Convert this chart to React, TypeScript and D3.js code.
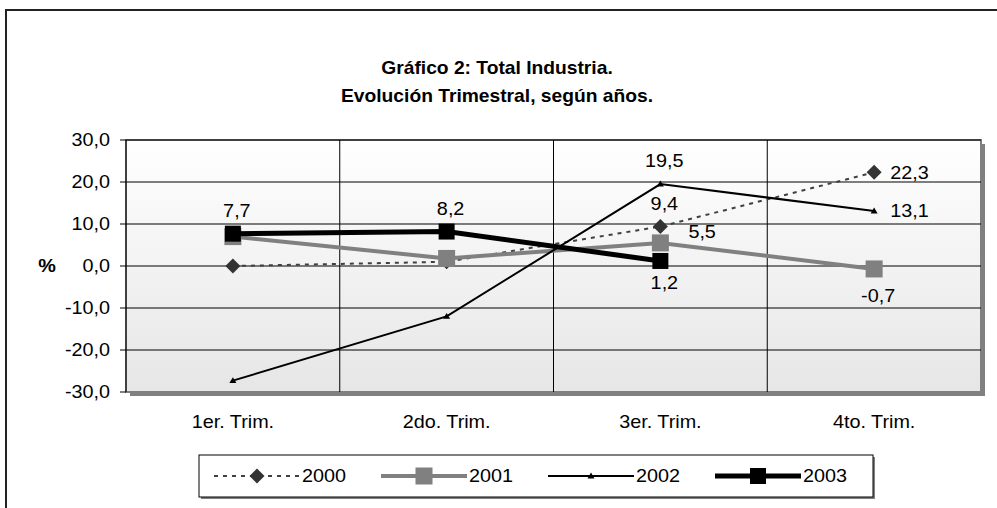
import React from "react";
import * as d3 from "d3";

const categories = ["1er. Trim.", "2do. Trim.", "3er. Trim.", "4to. Trim."];
const yTicks = [-30, -20, -10, 0, 10, 20, 30];
const seriesNames = ["2000", "2001", "2002", "2003"];
const values2000 = [0.0, 1.0, 9.4, 22.3];
const values2001 = [7.0, 1.8, 5.5, -0.7];
const values2002 = [-27.3, -12.0, 19.5, 13.1];
const values2003 = [7.7, 8.2, 1.2];
const labels2000 = [null, null, "9,4", "22,3"];
const labels2001 = [null, null, "5,5", "-0,7"];
const labels2002 = [null, null, "19,5", "13,1"];
const labels2003 = ["7,7", "8,2", "1,2"];

const W = 997;
const H = 508;
const FONT = "'Liberation Sans', Arial, Helvetica, sans-serif";
const SX = 1.1;

type Placement = null | "above" | "below" | "right" | "rightUp" | "below2";

const seriesStyles = [
  { color: "#404040", width: 2, dash: "4,5", marker: "diamond", msize: 15, mcolor: "#333333" },
  { color: "#808080", width: 4, dash: null, marker: "square", msize: 17, mcolor: "#808080" },
  { color: "#000000", width: 2, dash: null, marker: "triangle", msize: 7, mcolor: "#000000" },
  { color: "#000000", width: 5, dash: null, marker: "square", msize: 16, mcolor: "#000000" },
];

const placements: Placement[][] = [
  [null, null, "above", "right"],
  [null, null, "rightUp", "below2"],
  [null, null, "above", "right"],
  ["above", "above", "below"],
];

function T({ x, y, children, anchor = "middle", size = 18, weight = "normal" }: any) {
  return (
    <text
      transform={`translate(${x},${y}) scale(${SX},1)`}
      textAnchor={anchor}
      dominantBaseline="central"
      fontFamily={FONT}
      fontSize={size}
      fontWeight={weight}
      fill="#000"
    >
      {children}
    </text>
  );
}

function Marker({ type, x, y, size, color }: any) {
  if (type === "diamond") {
    const r = size / 2;
    return <path d={`M${x},${y - r}L${x + r},${y}L${x},${y + r}L${x - r},${y}Z`} fill={color} />;
  }
  if (type === "square") {
    return <rect x={x - size / 2} y={y - size / 2} width={size} height={size} fill={color} />;
  }
  const r = size / 2;
  return <path d={`M${x},${y - r}L${x + r},${y + r * 0.7}L${x - r},${y + r * 0.7}Z`} fill={color} />;
}

export default function App() {
  const left = 126, right = 981, top = 140, bottom = 392;
  const x = d3.scaleBand<string>().domain(categories).range([left, right]).paddingInner(0).paddingOuter(0);
  const y = d3.scaleLinear().domain([-30, 30]).range([bottom, top]);
  const cx = (i: number) => (x(categories[i]) as number) + x.bandwidth() / 2;

  const allValues = [values2000, values2001, values2002, values2003];
  const allLabels = [labels2000, labels2001, labels2002, labels2003];

  const line = d3
    .line<number>()
    .x((_, i) => cx(i))
    .y((d) => y(d));

  const labelPos = (p: Placement, px: number, py: number) => {
    switch (p) {
      case "above":
        return { x: px + 4, y: py - 23, anchor: "middle" };
      case "below":
        return { x: px + 4, y: py + 22, anchor: "middle" };
      case "below2":
        return { x: px + 4, y: py + 27, anchor: "middle" };
      case "right":
        return { x: px + 16, y: py, anchor: "start" };
      case "rightUp":
        return { x: px + 28, y: py - 11, anchor: "start" };
      default:
        return null;
    }
  };

  const legendX = 199, legendY = 455, legendW = 674, legendH = 42;
  const itemStart = (i: number) => 214 + i * 167;
  const sampleLen = 86;

  return (
    <svg width={W} height={H} style={{ position: "absolute", left: 0, top: 0, background: "#fff" }}>
      <defs>
        <linearGradient id="plotbg" x1="0" y1="0" x2="0" y2="1">
          <stop offset="0" stopColor="#ffffff" />
          <stop offset="1" stopColor="#e6e6e6" />
        </linearGradient>
      </defs>
      <rect x={0} y={0} width={W} height={H} fill="#fff" />
      {/* outer frame */}
      <rect x={6} y={10} width={1010} height={520} fill="none" stroke="#222" strokeWidth={2} />

      {/* title */}
      <T x={497} y={68} size={17.5} weight="bold">Gráfico 2: Total Industria.</T>
      <T x={497} y={96} size={17.5} weight="bold">Evolución Trimestral, según años.</T>

      {/* plot area shadow and fill */}
      <rect x={left + 4} y={top + 4} width={right - left} height={bottom - top} fill="#808080" />
      <rect x={left} y={top} width={right - left} height={bottom - top} fill="url(#plotbg)" stroke="#808080" strokeWidth={2} />

      {/* horizontal gridlines */}
      {yTicks.filter((t) => t !== -30).map((t) => (
        <line key={t} x1={left} x2={right} y1={y(t)} y2={y(t)} stroke="#000" strokeWidth={1} />
      ))}
      {/* vertical gridlines */}
      {categories.slice(1).map((c) => (
        <line key={c} x1={x(c)} x2={x(c)} y1={top} y2={bottom} stroke="#000" strokeWidth={1} />
      ))}
      {/* y axis */}
      <line x1={left} x2={left} y1={top} y2={bottom} stroke="#000" strokeWidth={1} />
      {yTicks.map((t) => (
        <g key={t}>
          <line x1={left - 6} x2={left} y1={y(t)} y2={y(t)} stroke="#000" strokeWidth={1} />
          <T x={110} y={y(t)} anchor="end">{d3.format(".1f")(t).replace(".", ",").replace("−", "-")}</T>
        </g>
      ))}
      <T x={47} y={y(0)} weight="bold">%</T>

      {/* category labels */}
      {categories.map((c, i) => (
        <T key={c} x={cx(i)} y={422}>{c}</T>
      ))}

      {/* series */}
      {allValues.map((vals, si) => {
        const st = seriesStyles[si];
        return (
          <g key={si}>
            <path d={line(vals) as string} fill="none" stroke={st.color} strokeWidth={st.width} strokeDasharray={st.dash || undefined} />
            {vals.map((v, i) => (
              <Marker key={i} type={st.marker} x={cx(i)} y={y(v)} size={st.msize} color={st.mcolor} />
            ))}
          </g>
        );
      })}
      {/* data labels */}
      {allLabels.map((labs, si) =>
        labs.map((l, i) => {
          if (!l) return null;
          const p = labelPos(placements[si][i], cx(i), y(allValues[si][i]));
          if (!p) return null;
          return (
            <T key={`${si}-${i}`} x={p.x} y={p.y} anchor={p.anchor}>{l}</T>
          );
        })
      )}

      {/* legend */}
      <rect x={legendX + 2} y={legendY + 2} width={legendW} height={legendH} fill="#808080" />
      <rect x={legendX} y={legendY} width={legendW} height={legendH} fill="#fff" stroke="#000" strokeWidth={1} />
      {seriesNames.map((n, i) => {
        const st = seriesStyles[i];
        const sx = itemStart(i);
        const ly = legendY + legendH / 2;
        return (
          <g key={n}>
            <line x1={sx} x2={sx + sampleLen} y1={ly} y2={ly} stroke={st.color} strokeWidth={st.width} strokeDasharray={st.dash || undefined} />
            <Marker type={st.marker} x={sx + sampleLen / 2} y={ly} size={st.msize} color={st.mcolor} />
            <T x={sx + sampleLen + 2} y={ly} anchor="start">{n}</T>
          </g>
        );
      })}
    </svg>
  );
}
